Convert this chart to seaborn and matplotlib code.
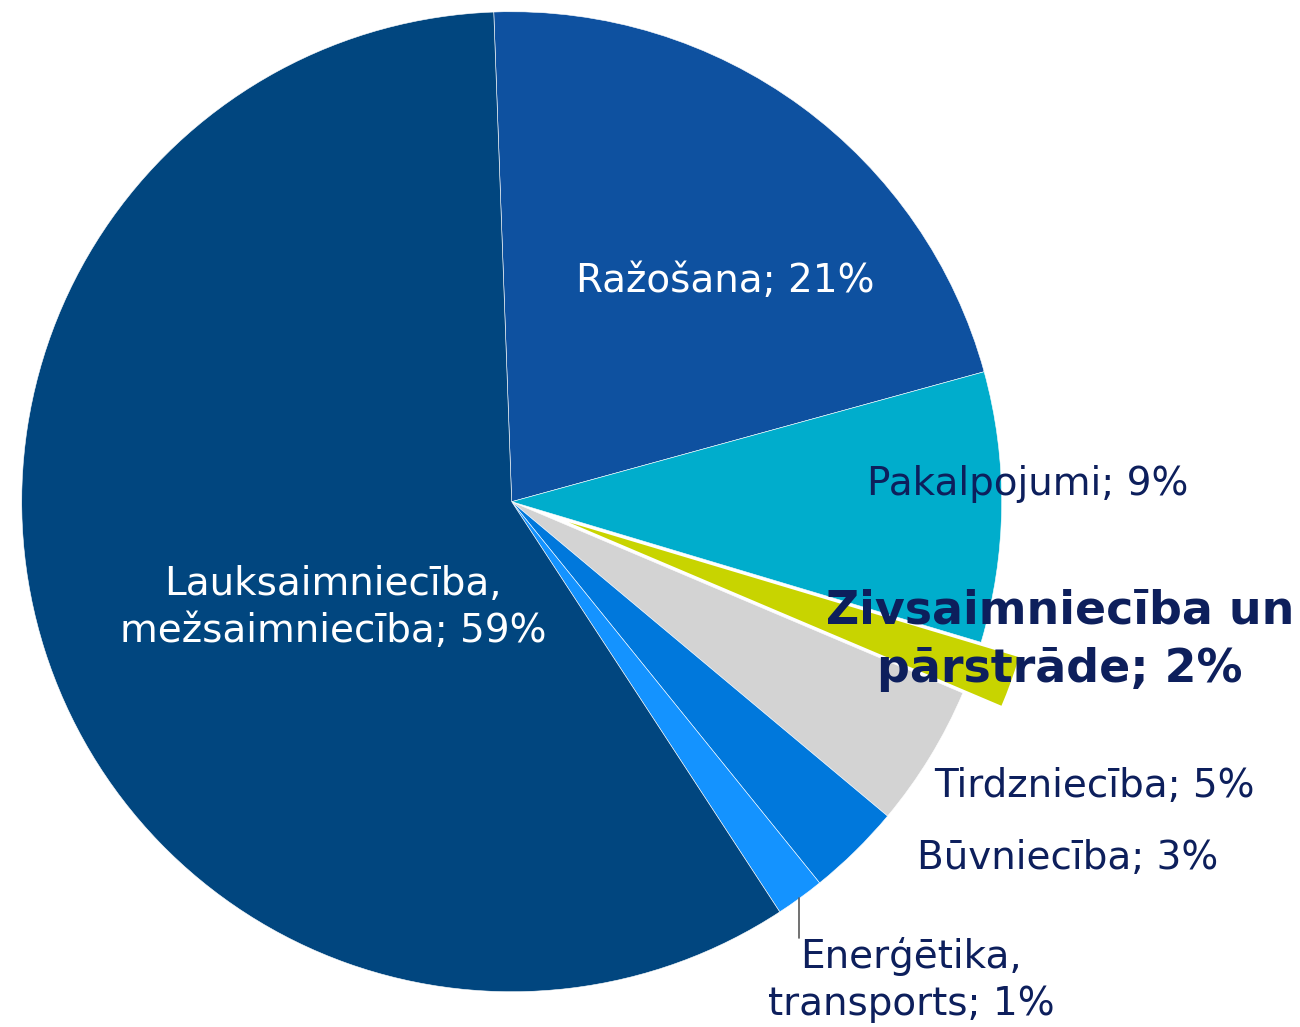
import matplotlib
matplotlib.use("Agg")
import matplotlib.pyplot as plt
import seaborn as sns

# nozares un to daļas (%)
nozares = ["Ražošana", "Pakalpojumi", "Zivsaimniecība un pārstrāde", "Tirdzniecība",
           "Būvniecība", "Enerģētika, transports", "Lauksaimniecība, mežsaimniecība"]
dalas = [21.3, 8.9, 1.75, 4.7, 3.1, 1.6, 58.6]
etiketes = ["Ražošana; 21%", "Pakalpojumi; 9%", "Zivsaimniecība un\npārstrāde; 2%",
            "Tirdzniecība; 5%", "Būvniecība; 3%", "Enerģētika,\ntransports; 1%",
            "Lauksaimniecība,\nmežsaimniecība; 59%"]
krasas = ["#0E51A0", "#00ADCC", "#C8D400", "#D3D3D3", "#0078DC", "#1493FF", "#01467F"]
izvirzit = [0, 0, 0.085, 0, 0, 0, 0]

sns.set_theme(style="white")
plt.rcParams["font.family"] = ["DejaVu Sans"]

navy = "#0D1F5C"

fig = plt.figure(figsize=(13, 10.27), dpi=100)
ax = fig.add_axes([0, 0, 1, 1])

wedges, _ = ax.pie(dalas, colors=krasas, explode=izvirzit, startangle=92.1,
                   counterclock=False, radius=1.0,
                   wedgeprops=dict(edgecolor="white", linewidth=0.4))
wedges[2].set_linewidth(1.5)

ax.set_xlim(-1.0443, 1.6088)
ax.set_ylim(-1.0720, 1.0239)
ax.set_aspect("auto")
ax.axis("off")

fs = 28
ax.text(0.435, 0.450, etiketes[0], color="white", fontsize=fs, ha="center", va="center")
ax.text(1.054, 0.036, etiketes[1], color=navy, fontsize=fs, ha="center", va="center")
ax.text(1.119, -0.282, etiketes[2], color=navy, fontsize=33, fontweight="bold",
        ha="center", va="center", linespacing=1.38)
ax.text(1.190, -0.580, etiketes[3], color=navy, fontsize=fs, ha="center", va="center")
ax.text(1.135, -0.727, etiketes[4], color=navy, fontsize=fs, ha="center", va="center")
ax.text(0.815, -0.976, etiketes[5], color=navy, fontsize=fs, ha="center", va="center",
        linespacing=1.3)
ax.plot([0.587, 0.587], [-0.809, -0.891], color="#595959", linewidth=1.2)
ax.text(-0.364, -0.215, etiketes[6], color="white", fontsize=fs, ha="center", va="center",
        linespacing=1.3)

fig.savefig("out.png", dpi=100)
